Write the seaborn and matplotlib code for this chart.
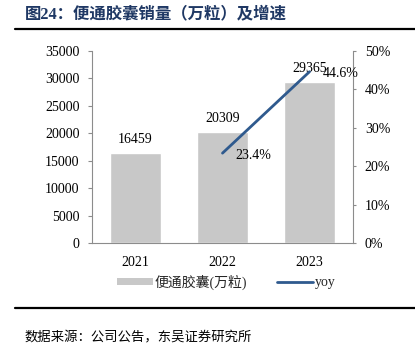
import matplotlib
matplotlib.use("Agg")
import matplotlib.pyplot as plt
import seaborn as sns
import pandas as pd
from matplotlib.lines import Line2D
from matplotlib.patches import Patch

years = ["2021", "2022", "2023"]
sales = [16459, 20309, 29365]
yoy_years = ["2022", "2023"]
yoy = [23.4, 44.6]
yoy_labels = ["23.4%", "44.6%"]
left_ticks = [0, 5000, 10000, 15000, 20000, 25000, 30000, 35000]
right_ticks = [0, 10, 20, 30, 40, 50]

sns.set_theme(style="white")
FONTS = ["Liberation Serif", "Noto Sans CJK SC"]
plt.rcParams["font.family"] = FONTS

fig = plt.figure(figsize=(4.15, 3.46), dpi=100)
ax = fig.add_axes([92/415, 1-243/346, (353-92)/415, (243-51)/346])

df = pd.DataFrame({"year": years, "sales": sales})
sns.barplot(data=df, x="year", y="sales", order=years, color="#C8C8C8",
            width=0.58, saturation=1, ax=ax)
ax.bar_label(ax.containers[0], labels=[str(v) for v in sales], padding=5,
             fontsize=10, color="#000000")
ax.set_ylim(0, 35000)
ax.set_yticks(left_ticks)
ax.set_yticklabels([str(t) for t in left_ticks])
ax.set_xlim(-0.5, 2.5)
ax.set_xlabel("")
ax.set_ylabel("")

ax2 = ax.twinx()
pos = [years.index(y) for y in yoy_years]
ldf = pd.DataFrame({"pos": pos, "yoy": yoy})
sns.lineplot(data=ldf, x="pos", y="yoy", color="#2F5A8E", linewidth=2, ax=ax2)
ax2.set_ylim(0, 50)
ax2.set_yticks(right_ticks)
ax2.set_yticklabels([f"{t}%" for t in right_ticks])
ax2.set_xlim(-0.5, 2.5)
ax2.set_xlabel("")
ax2.set_ylabel("")
for p, v, lab in zip(pos, yoy, yoy_labels):
    ax2.annotate(lab, (p, v), xytext=(13, -2), textcoords="offset pixels",
                 ha="left", va="center", fontsize=10, color="#000000")

for a in (ax, ax2):
    for s in a.spines.values():
        s.set_visible(False)
ax.spines["left"].set_visible(True)
ax.spines["bottom"].set_visible(True)
ax2.spines["right"].set_visible(True)
for s in (ax.spines["left"], ax.spines["bottom"], ax2.spines["right"]):
    s.set_color("#8C8C8C")
    s.set_linewidth(0.8)

ax.tick_params(axis="y", direction="out", length=3, width=0.8, color="#8C8C8C",
               pad=6, labelsize=10, labelcolor="#000000", left=True)
ax.tick_params(axis="x", length=0, pad=9, labelsize=10, labelcolor="#000000")
ax2.tick_params(axis="y", direction="out", length=2.5, width=0.8, color="#8C8C8C",
                pad=6, labelsize=10, labelcolor="#000000", right=True)
ax.grid(False)
ax2.grid(False)

handles = [Patch(facecolor="#C8C8C8", edgecolor="none"),
           Line2D([], [], color="#2F5A8E", linewidth=2)]
fig.legend(handles, ["便通胶囊(万粒)", "yoy"], loc="center",
           bbox_to_anchor=(0.545, 1-282/346), ncol=2, frameon=False,
           handlelength=2.6, handleheight=0.5, handletextpad=0.1,
           columnspacing=2.2, prop={"family": FONTS, "size": 10})

fig.text(25/415, 1-14/346, "图24：便通胶囊销量（万粒）及增速", ha="left", va="center",
         fontsize=11.8, fontweight="bold", color="#1F3864", family=FONTS)
fig.text(25/415, 1-338/346, "数据来源：公司公告，东吴证券研究所", ha="left", va="center",
         fontsize=9.6, color="#000000", family=FONTS)
fig.add_artist(Line2D([15/415, 1], [1-29/346, 1-29/346], color="#000000", linewidth=1.6))
fig.add_artist(Line2D([15/415, 1], [1-308/346, 1-308/346], color="#000000", linewidth=1.6))

fig.savefig("out.png", dpi=100)
